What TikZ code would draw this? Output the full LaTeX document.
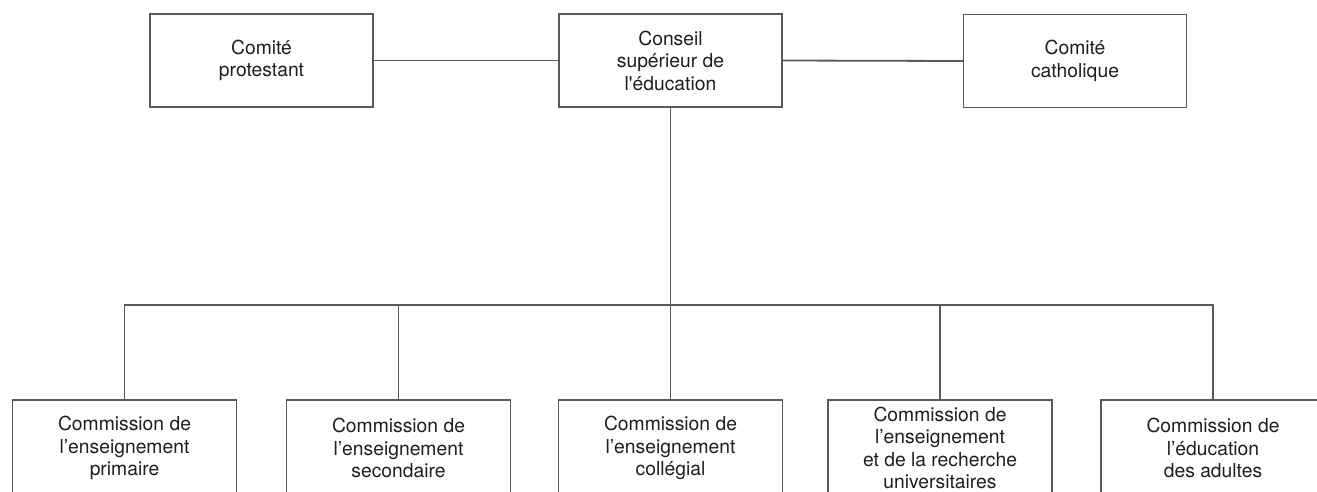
\documentclass[tikz,border=0pt]{standalone}
\usepackage{fontspec}
\setmainfont{TeX Gyre Heros}
\definecolor{linec}{HTML}{5A5A5A}
\definecolor{txtc}{HTML}{1E1E1E}
\begin{document}
\begin{tikzpicture}[x=1pt,y=-1pt,
  box/.style={draw=linec, line width=1.4pt, fill=white, text=txtc, align=center,
    font=\fontsize{19.3}{22.5}\selectfont, inner sep=0pt},
  topbox/.style={box, minimum width=223pt, minimum height=93pt},
  botbox/.style={box, minimum width=224pt, minimum height=96pt},
  conn/.style={draw=linec, line width=1.8pt}]
\useasboundingbox (0,0) rectangle (1317,491);
\clip (0,0) rectangle (1317,491);
\fill[white] (0,0) rectangle (1317,491);
% top row
\node[topbox] (prot) at (261.5,60.5) {Comité\\protestant};
\node[topbox] (cons) at (670.5,60.5) {Conseil\\supérieur de\\l\textquotesingle éducation};
\node[topbox] (cath) at (1075,61) {Comité\\catholique};
% bottom row
\node[botbox] (b1) at (124.5,448) {Commission de\\l’enseignement\\primaire};
\node[botbox] (b2) at (398.5,448) {Commission de\\l’enseignement\\secondaire};
\node[botbox] (b3) at (670.5,448) {Commission de\\l’enseignement\\collégial};
\node[botbox] (b4) at (940,448) {Commission de\\l’enseignement\\et de la recherche\\universitaires};
\node[botbox] (b5) at (1213,448) {Commission de\\l’éducation\\des adultes};
% connectors
\draw[conn] (prot.east) -- (cons.west);
\draw[conn] (cons.east) -- (cath.west);
\draw[conn] (cons.south) -- ++(0,197) coordinate (j);
\draw[conn] (b1.north) -- (b1.north |- j) -- (b5.north |- j) -- (b5.north);
\draw[conn] (b2.north) -- (b2.north |- j);
\draw[conn] (b3.north) -- (b3.north |- j);
\draw[conn] (b4.north) -- (b4.north |- j);
\end{tikzpicture}
\end{document}
